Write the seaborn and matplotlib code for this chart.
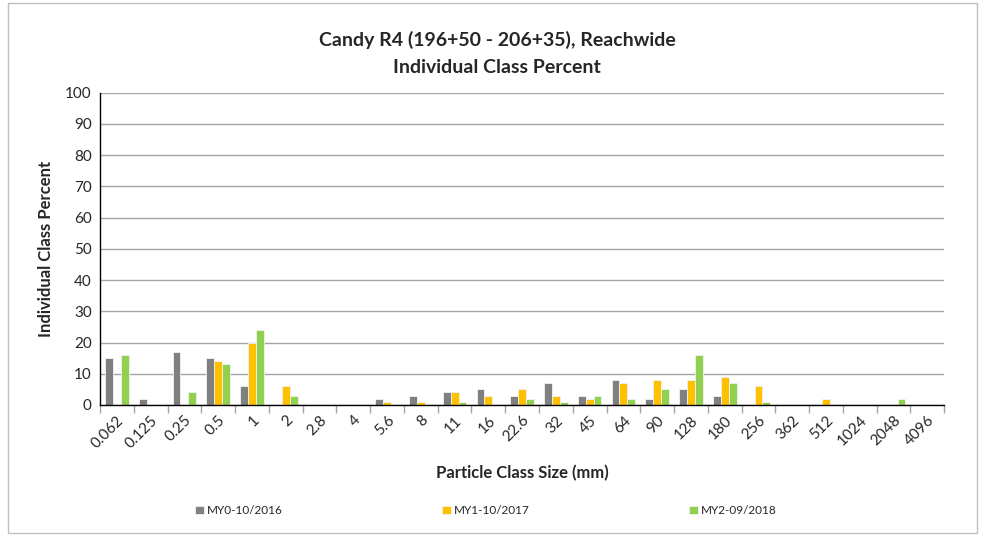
import numpy as np
import pandas as pd
import matplotlib
matplotlib.use("Agg")
import matplotlib.pyplot as plt
import seaborn as sns

categories = ["0.062", "0.125", "0.25", "0.5", "1", "2", "2.8", "4", "5.6", "8", "11", "16",
              "22.6", "32", "45", "64", "90", "128", "180", "256", "362", "512", "1024", "2048", "4096"]
my0 = [15, 2, 17, 15, 6, 0, 0, 0, 2, 3, 4, 5, 3, 7, 3, 8, 2, 5, 3, 0, 0, 0, 0, 0, 0]
my1 = [0, 0, 0, 14, 20, 6, 0, 0, 1, 1, 4, 3, 5, 3, 2, 7, 8, 8, 9, 6, 0, 2, 0, 0, 0]
my2 = [16, 0, 4, 13, 24, 3, 0, 0, 0, 0, 1, 0, 2, 1, 3, 2, 5, 16, 7, 1, 0, 0, 0, 2, 0]
series = ["MY0-10/2016", "MY1-10/2017", "MY2-09/2018"]
colors = ["#808080", "#FFC000", "#92D050"]

df = pd.concat([
    pd.DataFrame({"size": categories, "pct": vals, "series": name})
    for name, vals in zip(series, [my0, my1, my2])
])

sns.set_theme(style="white")
plt.rcParams["font.family"] = ["Lato", "DejaVu Sans"]

fig = plt.figure(figsize=(9.84, 5.35), dpi=100)
ax = fig.add_axes([0.1016, 0.243, 0.858, 0.584])

sns.barplot(data=df, x="size", y="pct", hue="series", palette=colors,
            order=categories, hue_order=series, width=0.7, ax=ax, saturation=1,
            edgecolor="#F2F2F2", linewidth=0.6, legend=True)

ax.set_ylim(0, 100)
ax.set_yticks(range(0, 101, 10))
ax.set_xlim(-0.5, len(categories) - 0.5)
ax.yaxis.grid(True, color="#A6A6A6", linewidth=1)
ax.set_axisbelow(True)
for s in ["top", "right"]:
    ax.spines[s].set_visible(False)
ax.spines["left"].set_color("black")
ax.spines["bottom"].set_color("black")
ax.spines["left"].set_linewidth(1)
ax.spines["bottom"].set_linewidth(1)

ax.set_xticks(np.arange(len(categories)))
ax.set_xticklabels(categories, rotation=45, ha="right", rotation_mode="anchor", fontsize=11)
ax.tick_params(axis="x", length=0, pad=6)
ax.set_xticks(np.arange(-0.5, len(categories)), minor=True)
ax.tick_params(axis="x", which="minor", length=6, color="#A6A6A6", width=1, bottom=True)
ax.tick_params(axis="y", labelsize=11, length=0, pad=6)

ax.set_xlabel("Particle Class Size (mm)", fontsize=12, fontweight="bold", labelpad=10)
ax.set_ylabel("Individual Class Percent", fontsize=12, fontweight="bold", labelpad=8)

fig.text(0.505, 0.925, "Candy R4 (196+50 - 206+35), Reachwide", ha="center", va="center",
         fontsize=14, fontweight="bold")
fig.text(0.505, 0.873, "Individual Class Percent", ha="center", va="center",
         fontsize=14, fontweight="bold")

handles, labels = ax.get_legend_handles_labels()
ax.get_legend().remove()
fig.legend(handles, labels, loc="center", bbox_to_anchor=(0.494, 0.045), ncol=3,
           frameon=False, fontsize=8.5, handlelength=0.7, handleheight=0.7,
           handletextpad=0.3, columnspacing=13.5)

fig.patches.append(plt.Rectangle((0.008, 0.004), 0.985, 0.99, transform=fig.transFigure,
                                 fill=False, edgecolor="#BFBFBF", linewidth=1))

fig.savefig("out.png", dpi=100)
